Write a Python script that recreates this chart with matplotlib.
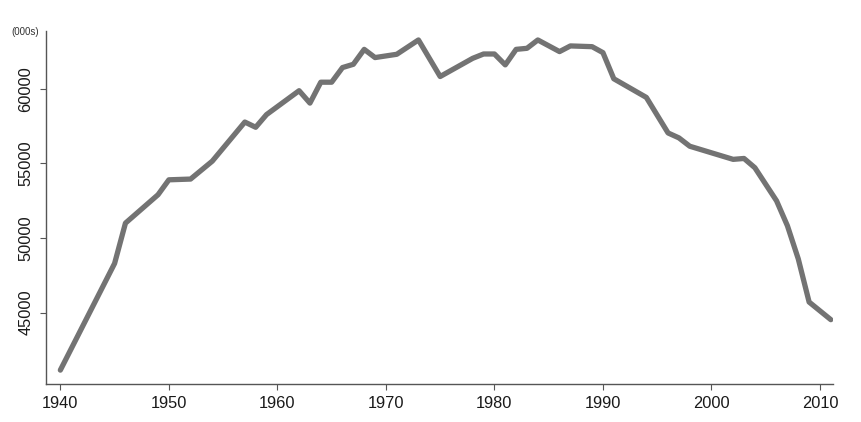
import matplotlib

matplotlib.use("Agg")
import matplotlib.pyplot as plt

# values (thousands)
years = [1940, 1945, 1946, 1949, 1950, 1952, 1954, 1957, 1958, 1959,
         1962, 1963, 1964, 1965, 1966, 1967, 1968, 1969, 1971, 1973,
         1975, 1978, 1979, 1980, 1981, 1982, 1983, 1984, 1986, 1987,
         1989, 1990, 1991, 1994, 1996, 1997, 1998, 2002, 2003, 2004,
         2006, 2007, 2008, 2009, 2011]
values = [41150, 48300, 51000, 52900, 53900, 53950, 55150, 57770, 57420, 58270,
          59870, 59040, 60440, 60440, 61420, 61640, 62640, 62090, 62310, 63270,
          60820, 62040, 62330, 62330, 61600, 62640, 62710, 63270, 62490, 62870,
          62820, 62420, 60670, 59420, 57040, 56710, 56150, 55270, 55330, 54710,
          52490, 50820, 48600, 45710, 44530]
x_ticks = [1940, 1950, 1960, 1970, 1980, 1990, 2000, 2010]
y_ticks = [45000, 50000, 55000, 60000]

plt.rcParams["font.family"] = ["Liberation Sans", "DejaVu Sans"]

fig = plt.figure(figsize=(8.62, 4.22), dpi=100)
ax = fig.add_axes([45.7 / 862, 38 / 422, (833 - 45.7) / 862, (384 - 31) / 422])

ax.plot(years, values, color="#737373", lw=3.8, solid_joinstyle="round",
        solid_capstyle="round")

ax.set_xlim(1938.65, 2011.2)
ax.set_ylim(40220, 63870)
ax.set_xticks(x_ticks)
ax.set_yticks(y_ticks)
ax.set_yticklabels([str(v) for v in y_ticks], rotation=90, va="center")

for s in ("top", "right"):
    ax.spines[s].set_visible(False)
for s in ("left", "bottom"):
    ax.spines[s].set_color("#555555")
    ax.spines[s].set_linewidth(1.0)
ax.tick_params(axis="both", direction="out", length=4, width=0.8,
               color="#555555", labelsize=11.8, labelcolor="#1a1a1a")
ax.tick_params(axis="x", pad=5)
ax.tick_params(axis="y", pad=5)

fig.text(25 / 862, 1 - 32 / 422, "(000s)", fontsize=7, color="#333333",
         ha="center", va="center")

fig.savefig("out.png", dpi=100)
